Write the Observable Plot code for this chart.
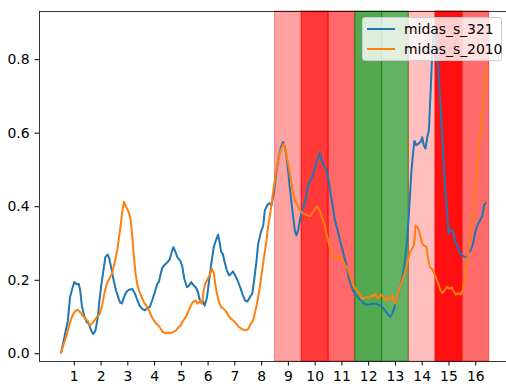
<!DOCTYPE html>
<html>
<head>
<meta charset="utf-8">
<script src="https://cdn.jsdelivr.net/npm/d3@7"></script>
<script src="https://cdn.jsdelivr.net/npm/@observablehq/plot@0.6"></script>
<style>
  html, body { margin: 0; padding: 0; background: #fff; }
  #wrap { position: relative; width: 506px; height: 387px; overflow: hidden; font-family: "DejaVu Sans", sans-serif; }
  #legend { position: absolute; left: 362px; top: 17px; width: 140px; height: 44px; box-sizing: border-box;
            border: 1px solid #cccccc; border-radius: 3px; background: rgba(255,255,255,0.8); }
  .entry { position: absolute; left: 0; height: 20px; width: 100%; }
  .swatch { position: absolute; left: 4px; width: 28px; height: 2px; top: 9px; }
  .name { position: absolute; left: 41px; top: 1px; font-size: 13.9px; line-height: 18px; color: #000; white-space: nowrap; }
</style>
</head>
<body>
<div id="wrap"><div id="legend"></div></div>
<script>
// Series names and line colours
const seriesNames = ["midas_s_321", "midas_s_2010"];
const seriesColors = ["#1f77b4", "#ff7f0e"];

// midas_s_321
const x321 = [0.51,0.63,0.76,0.84,0.94,1.00,1.09,1.17,1.22,1.29,1.38,1.47,1.54,1.63,1.71,1.79,1.88,1.94,2.00,2.09,2.16,2.25,2.31,2.40,2.47,2.56,2.66,2.71,2.78,2.86,2.94,3.04,3.17,3.27,3.36,3.44,3.54,3.64,3.73,3.82,3.91,4.01,4.10,4.16,4.23,4.29,4.39,4.47,4.56,4.64,4.70,4.76,4.85,4.95,5.03,5.11,5.21,5.29,5.37,5.46,5.54,5.62,5.71,5.79,5.87,5.96,6.04,6.12,6.21,6.29,6.37,6.43,6.49,6.55,6.62,6.70,6.79,6.86,6.93,7.01,7.10,7.20,7.29,7.38,7.47,7.56,7.65,7.72,7.81,7.87,7.96,8.06,8.12,8.21,8.28,8.37,8.47,8.56,8.64,8.72,8.80,8.87,8.93,8.99,9.05,9.12,9.18,9.24,9.30,9.36,9.43,9.51,9.61,9.68,9.74,9.82,9.91,10.00,10.10,10.17,10.25,10.32,10.41,10.50,10.57,10.66,10.74,10.84,10.93,11.03,11.12,11.19,11.25,11.34,11.44,11.53,11.65,11.78,11.90,12.03,12.18,12.26,12.45,12.57,12.70,12.80,12.88,12.97,13.07,13.17,13.26,13.34,13.42,13.48,13.54,13.60,13.67,13.71,13.78,13.85,13.94,14.00,14.06,14.12,14.19,14.25,14.31,14.38,14.45,14.52,14.60,14.68,14.77,14.85,14.93,14.98,15.03,15.10,15.16,15.22,15.31,15.40,15.50,15.60,15.66,15.72,15.81,15.90,15.97,16.06,16.16,16.25,16.31,16.37];
const y321 = [0.003,0.045,0.090,0.154,0.181,0.195,0.189,0.190,0.172,0.127,0.100,0.086,0.082,0.063,0.054,0.063,0.100,0.145,0.181,0.227,0.263,0.270,0.258,0.227,0.200,0.172,0.150,0.140,0.137,0.154,0.168,0.174,0.176,0.163,0.145,0.131,0.122,0.118,0.125,0.127,0.145,0.168,0.190,0.195,0.218,0.234,0.243,0.248,0.256,0.276,0.290,0.281,0.263,0.254,0.240,0.204,0.181,0.186,0.195,0.186,0.181,0.168,0.140,0.145,0.131,0.154,0.200,0.245,0.290,0.308,0.324,0.304,0.276,0.272,0.249,0.227,0.213,0.218,0.224,0.213,0.200,0.181,0.161,0.145,0.142,0.154,0.163,0.200,0.254,0.299,0.327,0.349,0.390,0.404,0.410,0.404,0.444,0.499,0.535,0.562,0.576,0.562,0.535,0.499,0.453,0.408,0.372,0.335,0.322,0.335,0.363,0.390,0.408,0.435,0.460,0.472,0.485,0.508,0.531,0.546,0.526,0.512,0.503,0.472,0.440,0.399,0.363,0.335,0.308,0.281,0.254,0.236,0.208,0.186,0.168,0.159,0.150,0.140,0.134,0.134,0.137,0.136,0.131,0.122,0.109,0.100,0.109,0.127,0.154,0.181,0.208,0.245,0.299,0.354,0.426,0.499,0.553,0.579,0.567,0.571,0.576,0.589,0.567,0.558,0.589,0.608,0.707,0.825,0.885,0.860,0.780,0.680,0.560,0.460,0.390,0.327,0.337,0.335,0.331,0.308,0.295,0.276,0.267,0.263,0.261,0.276,0.281,0.299,0.327,0.349,0.363,0.376,0.404,0.410];

// midas_s_2010
const x2010 = [0.50,0.59,0.69,0.79,0.88,0.97,1.04,1.13,1.22,1.32,1.41,1.50,1.59,1.66,1.75,1.84,1.94,2.04,2.12,2.21,2.31,2.41,2.50,2.59,2.66,2.75,2.80,2.86,2.94,3.04,3.11,3.17,3.23,3.29,3.36,3.42,3.52,3.60,3.69,3.79,3.89,3.98,4.06,4.14,4.23,4.31,4.41,4.51,4.60,4.69,4.79,4.88,4.97,5.06,5.15,5.25,5.33,5.42,5.52,5.62,5.71,5.77,5.83,5.89,5.99,6.08,6.14,6.21,6.27,6.33,6.41,6.49,6.58,6.66,6.76,6.86,6.95,7.04,7.14,7.24,7.33,7.42,7.50,7.60,7.68,7.77,7.85,7.93,8.02,8.09,8.18,8.24,8.34,8.42,8.51,8.59,8.67,8.76,8.83,8.90,8.99,9.08,9.15,9.24,9.34,9.43,9.51,9.61,9.74,9.82,9.91,10.00,10.10,10.17,10.25,10.35,10.42,10.50,10.57,10.66,10.74,10.84,10.93,11.03,11.12,11.19,11.28,11.37,11.47,11.56,11.65,11.74,11.84,11.94,12.03,12.11,12.18,12.26,12.34,12.45,12.55,12.64,12.72,12.80,12.88,12.94,13.01,13.09,13.19,13.29,13.38,13.47,13.54,13.63,13.69,13.75,13.82,13.88,13.94,14.00,14.06,14.16,14.21,14.28,14.37,14.45,14.51,14.60,14.69,14.76,14.85,14.94,15.01,15.10,15.19,15.26,15.34,15.43,15.51,15.60,15.69,15.79,15.89,15.98,16.07,16.17,16.26,16.35,16.40];
const y2010 = [0.003,0.023,0.045,0.072,0.095,0.109,0.116,0.120,0.113,0.104,0.095,0.090,0.077,0.082,0.090,0.100,0.107,0.131,0.163,0.190,0.204,0.218,0.245,0.276,0.310,0.360,0.390,0.413,0.399,0.385,0.363,0.317,0.263,0.218,0.186,0.172,0.154,0.140,0.131,0.118,0.101,0.090,0.082,0.077,0.068,0.059,0.056,0.058,0.056,0.059,0.063,0.071,0.077,0.089,0.098,0.113,0.127,0.140,0.145,0.136,0.145,0.136,0.172,0.190,0.204,0.218,0.231,0.222,0.190,0.163,0.140,0.127,0.122,0.116,0.104,0.095,0.090,0.083,0.074,0.068,0.065,0.064,0.068,0.082,0.090,0.118,0.145,0.181,0.227,0.263,0.308,0.345,0.390,0.435,0.481,0.517,0.544,0.562,0.571,0.553,0.517,0.481,0.444,0.417,0.404,0.390,0.385,0.379,0.376,0.374,0.385,0.395,0.401,0.390,0.372,0.354,0.327,0.304,0.281,0.272,0.263,0.258,0.265,0.254,0.240,0.236,0.218,0.200,0.181,0.172,0.165,0.150,0.151,0.154,0.153,0.159,0.156,0.163,0.150,0.161,0.154,0.145,0.154,0.147,0.159,0.143,0.136,0.163,0.186,0.208,0.227,0.254,0.276,0.286,0.295,0.349,0.345,0.335,0.317,0.299,0.295,0.290,0.263,0.236,0.231,0.218,0.208,0.190,0.172,0.165,0.174,0.183,0.177,0.180,0.168,0.161,0.165,0.161,0.172,0.208,0.263,0.317,0.390,0.453,0.526,0.599,0.671,0.735,0.780];

// Shaded intervals along x
const spanStart = [8.5, 9.5, 10.5, 11.5, 12.5, 13.5, 14.5, 15.5];
const spanEnd   = [9.5, 10.5, 11.5, 12.5, 13.5, 14.5, 15.5, 16.5];
const spanHue   = ["red", "red", "red", "green", "green", "red", "red", "red"];
const spanAlpha = [0.37, 0.78, 0.59, 0.68, 0.61, 0.25, 0.94, 0.58];

// Axis ticks and limits
const xTicks = [1,2,3,4,5,6,7,8,9,10,11,12,13,14,15,16];
const yTicks = [0, 0.2, 0.4, 0.6, 0.8];
const xLimits = [-0.3, 17.15];
const yLimits = [-0.021, 0.931];

const rgba = (c, a) => { const k = d3.color(c === "green" ? "#008000" : c); k.opacity = a; return k.formatRgb(); };
const spans = spanStart.map((s, i) => ({start: s, end: spanEnd[i], paint: rgba(spanHue[i], spanAlpha[i])}));
const s321 = x321.map((x, i) => ({x, y: y321[i]}));
const s2010 = x2010.map((x, i) => ({x, y: y2010[i]}));

const chart = Plot.plot({
  width: 506,
  height: 387,
  marginLeft: 39,
  marginTop: 11,
  marginBottom: 26,
  marginRight: 0,
  style: {fontFamily: "DejaVu Sans", fontSize: "13.9px", color: "#000", background: "#fff"},
  x: {domain: xLimits, ticks: xTicks, tickFormat: d => String(d), tickSize: 4.5, tickPadding: 5, label: null},
  y: {domain: yLimits, ticks: yTicks, tickFormat: d3.format(".1f"), tickSize: 4.5, tickPadding: 5.5, label: null},
  color: {type: "identity"},
  marks: [
    Plot.rect(spans, {x1: "start", x2: "end", fill: "paint", stroke: "paint", strokeWidth: 1}),
    Plot.line(s321, {x: "x", y: "y", stroke: seriesColors[0], strokeWidth: 2}),
    Plot.line(s2010, {x: "x", y: "y", stroke: seriesColors[1], strokeWidth: 2}),
    Plot.ruleX([xLimits[0]], {stroke: "#000", strokeWidth: 0.8}),
    Plot.ruleY([yLimits[0], yLimits[1]], {stroke: "#000", strokeWidth: 0.8})
  ]
});
const wrap = document.getElementById("wrap");
wrap.insertBefore(chart, wrap.firstChild);

// Legend box in the upper right
const legend = document.getElementById("legend");
seriesNames.forEach((name, i) => {
  const row = document.createElement("div");
  row.className = "entry";
  row.style.top = (1 + i * 20) + "px";
  const sw = document.createElement("div");
  sw.className = "swatch";
  sw.style.background = seriesColors[i];
  const tx = document.createElement("div");
  tx.className = "name";
  tx.textContent = name;
  row.appendChild(sw);
  row.appendChild(tx);
  legend.appendChild(row);
});
</script>
</body>
</html>
